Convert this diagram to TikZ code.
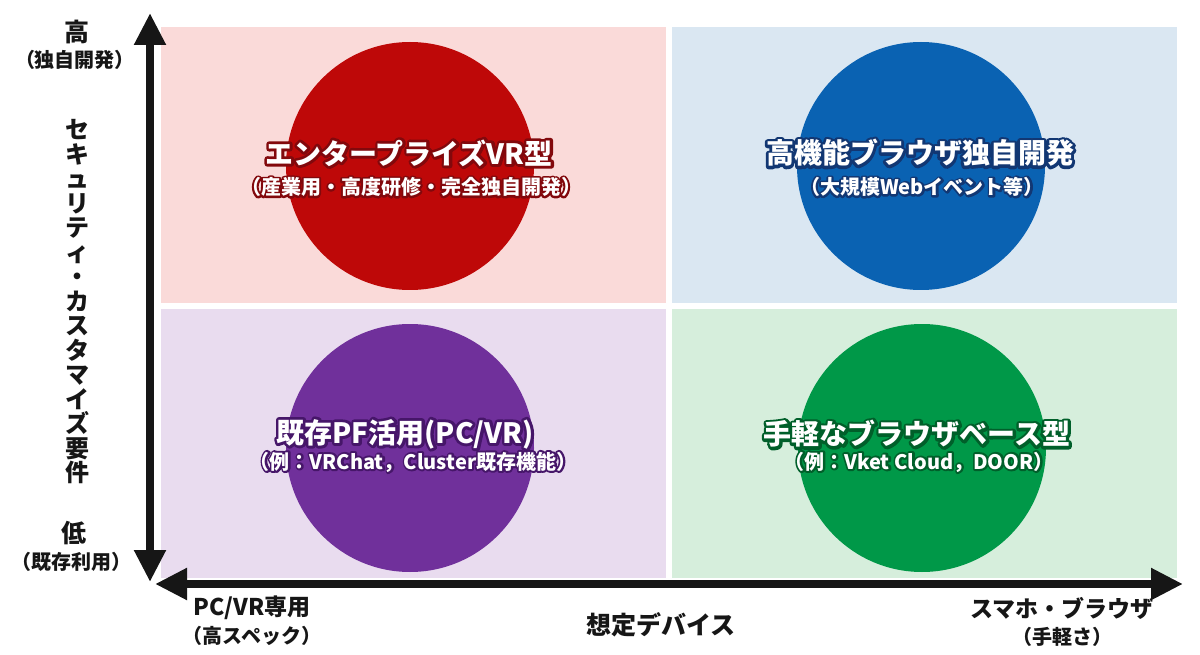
\documentclass[tikz,border=0pt]{standalone}
\usepackage{fontspec}
\setmainfont{Noto Sans CJK JP}
\newfontfamily\outfont{Noto Sans CJK JP}[FakeBold=20]
\usetikzlibrary{arrows.meta}
\definecolor{pinkbg}{RGB}{250,218,217}
\definecolor{bluebg}{RGB}{218,231,242}
\definecolor{purplebg}{RGB}{233,220,239}
\definecolor{greenbg}{RGB}{214,238,220}
\definecolor{redc}{RGB}{190,8,8}
\definecolor{bluec}{RGB}{10,98,178}
\definecolor{purplec}{RGB}{112,48,155}
\definecolor{greenc}{RGB}{0,152,72}
\definecolor{redd}{RGB}{130,8,12}
\definecolor{blued}{RGB}{18,55,115}
\definecolor{purpled}{RGB}{70,22,105}
\definecolor{greend}{RGB}{0,95,42}
\definecolor{ink}{RGB}{22,22,22}
% white text with a dark outline
\newcommand{\otext}[2]{\makebox[0pt][l]{\textcolor{#1}{\outfont\bfseries #2}}#2}
\begin{document}
\begin{tikzpicture}[x=1pt,y=-1pt,
  quad/.style={draw=none,inner sep=0pt,outer sep=0pt,anchor=north west,minimum width=505pt},
  bubble/.style={circle,draw=none,inner sep=0pt,minimum size=248pt},
  ttl/.style={text=white,inner sep=0pt,line join=round,font=\fontsize{28pt}{30pt}\selectfont\bfseries},
  sub/.style={text=white,inner sep=0pt,line join=round,font=\fontsize{20pt}{22pt}\selectfont\bfseries},
  axlbl/.style={text=ink,inner sep=0pt,font=\fontsize{25pt}{27pt}\selectfont\bfseries},
  axsub/.style={text=ink,inner sep=0pt,font=\fontsize{20pt}{22pt}\selectfont\bfseries},
  axis/.style={draw=ink,line width=8pt,{Triangle[width=30pt,length=32pt]}-{Triangle[width=30pt,length=32pt]}}
]
\useasboundingbox (0,0) rectangle (1200,655);
\fill[white] (0,0) rectangle (1200,655);

% quadrants
\node[quad,fill=pinkbg,minimum height=276pt] (qtl) at (161,27) {};
\node[quad,fill=bluebg,minimum height=276pt] (qtr) at (672,27) {};
\node[quad,fill=purplebg,minimum height=269pt] (qbl) at (161,309) {};
\node[quad,fill=greenbg,minimum height=269pt] (qbr) at (672,309) {};

% circles
\node[bubble,fill=redc] (cr) at (410,166) {};
\node[bubble,fill=bluec] (cb) at (921,166) {};
\node[bubble,fill=purplec] (cp) at (410,448) {};
\node[bubble,fill=greenc] (cg) at (922,448) {};

% circle labels
\node[ttl] (tr) at (409,153) {\otext{redd}{エンタープライズVR型}};
\node[sub] (sr) at (411,187) {\otext{redd}{（産業用・高度研修・完全独自開発）}};
\node[ttl] (tb) at (920,153) {\otext{blued}{高機能ブラウザ独自開発}};
\node[sub] (sb) at (922,187) {\otext{blued}{（大規模Webイベント等）}};
\node[ttl] (tp) at (405,434) {\otext{purpled}{既存PF活用(PC/VR)}};
\node[sub] (sp) at (413,462) {\otext{purpled}{（例：VRChat，Cluster既存機能）}};
\node[ttl] (tg) at (917,434) {\otext{greend}{手軽なブラウザベース型}};
\node[sub] (sg) at (919,462) {\otext{greend}{（例：Vket Cloud，DOOR）}};

% axes
\coordinate (ytop) at (150,13);
\coordinate (ybot) at (150,582);
\coordinate (xleft) at (155,584);
\coordinate (xright) at (1183,584);
\draw[axis] (ybot) -- (ytop);
\draw[axis] (xleft) -- (xright);

% axis labels
\node[axlbl] (hi) at (77,32) {高};
\node[axsub] (hisub) at (75,60) {（独自開発）};
\node[axlbl] (lo) at (74,533) {低};
\node[axsub] (losub) at (72,562) {（既存利用）};
\node[axlbl,align=center,font=\fontsize{24pt}{24.5pt}\selectfont\bfseries] (ylab) at (77,302)
  {セ\\キ\\ュ\\リ\\テ\\ィ\\・\\カ\\ス\\タ\\マ\\イ\\ズ\\要\\件};
\node[axlbl,font=\fontsize{23pt}{25pt}\selectfont\bfseries] (xl) at (252,608) {PC/VR専用};
\node[axsub] (xlsub) at (252,636) {（高スペック）};
\node[axlbl] (xlab) at (661,625) {想定デバイス};
\node[axlbl,font=\fontsize{23pt}{25pt}\selectfont\bfseries] (xr) at (1062,608) {スマホ・ブラウザ};
\node[axsub] (xrsub) at (1062,637) {（手軽さ）};
\end{tikzpicture}
\end{document}
